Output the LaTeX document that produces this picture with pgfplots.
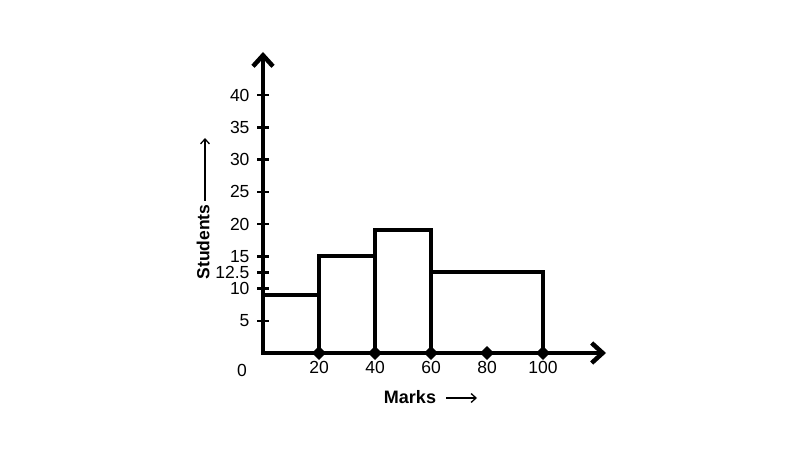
\documentclass[border=0pt]{standalone}
\usepackage{fontspec}
\setmainfont{Liberation Sans}
\usepackage{pgfplots}
\pgfplotsset{compat=1.18}
\usetikzlibrary{arrows.meta}
\begin{document}
\begin{tikzpicture}[x=1pt,y=1pt]
\useasboundingbox (0,0) rectangle (800,450);
\begin{axis}[
  at={(263pt,97pt)}, anchor=south west,
  width=343pt, height=301pt, scale only axis,
  xmin=0, xmax=122.5, ymin=0, ymax=46.67,
  clip=false,
  axis lines=left,
  axis line style={line width=4.5pt, -{Straight Barb[length=11pt,width=20pt]}},
  xtick={20,40,60,80,100},
  ytick={5,10,12.5,15,20,25,30,35,40},
  xtick style={draw=none},
  ytick style={line width=2.5pt, black},
  major tick length=12pt, tick align=center,
  ticklabel style={font=\fontsize{17.5}{19}\selectfont},
  yticklabel style={xshift=-4pt},
  xticklabel style={yshift=1pt},
  /pgf/number format/assume math mode=true,
]
\addplot[line width=4pt, line join=miter] coordinates {(0,9)(20,9)} \closedcycle;
\addplot[line width=4pt, line join=miter] coordinates {(20,15)(40,15)} \closedcycle;
\addplot[line width=4pt, line join=miter] coordinates {(40,19)(60,19)} \closedcycle;
\addplot[line width=4pt, line join=miter] coordinates {(60,12.5)(100,12.5)} \closedcycle;
\addplot[only marks, mark=diamond*, mark size=6.5pt, black, mark options={line width=0.5pt, xscale=1.35}] coordinates {(20,0)(40,0)(60,0)(80,0)(100,0)};
\end{axis}
\node[font=\fontsize{17.5}{19}\selectfont] at (242,80) {0};
\node[rotate=90, font=\bfseries\fontsize{17.5}{19}\selectfont] at (203,208) {Students};
\draw[line width=1.3pt, -{Straight Barb[length=5pt,width=9pt]}] (205,249) -- (205,312);
\node[font=\bfseries\fontsize{18}{20}\selectfont] at (410,53) {Marks};
\draw[line width=1.3pt, -{Straight Barb[length=5pt,width=9pt]}] (446,52) -- (477,52);
\end{tikzpicture}
\end{document}
